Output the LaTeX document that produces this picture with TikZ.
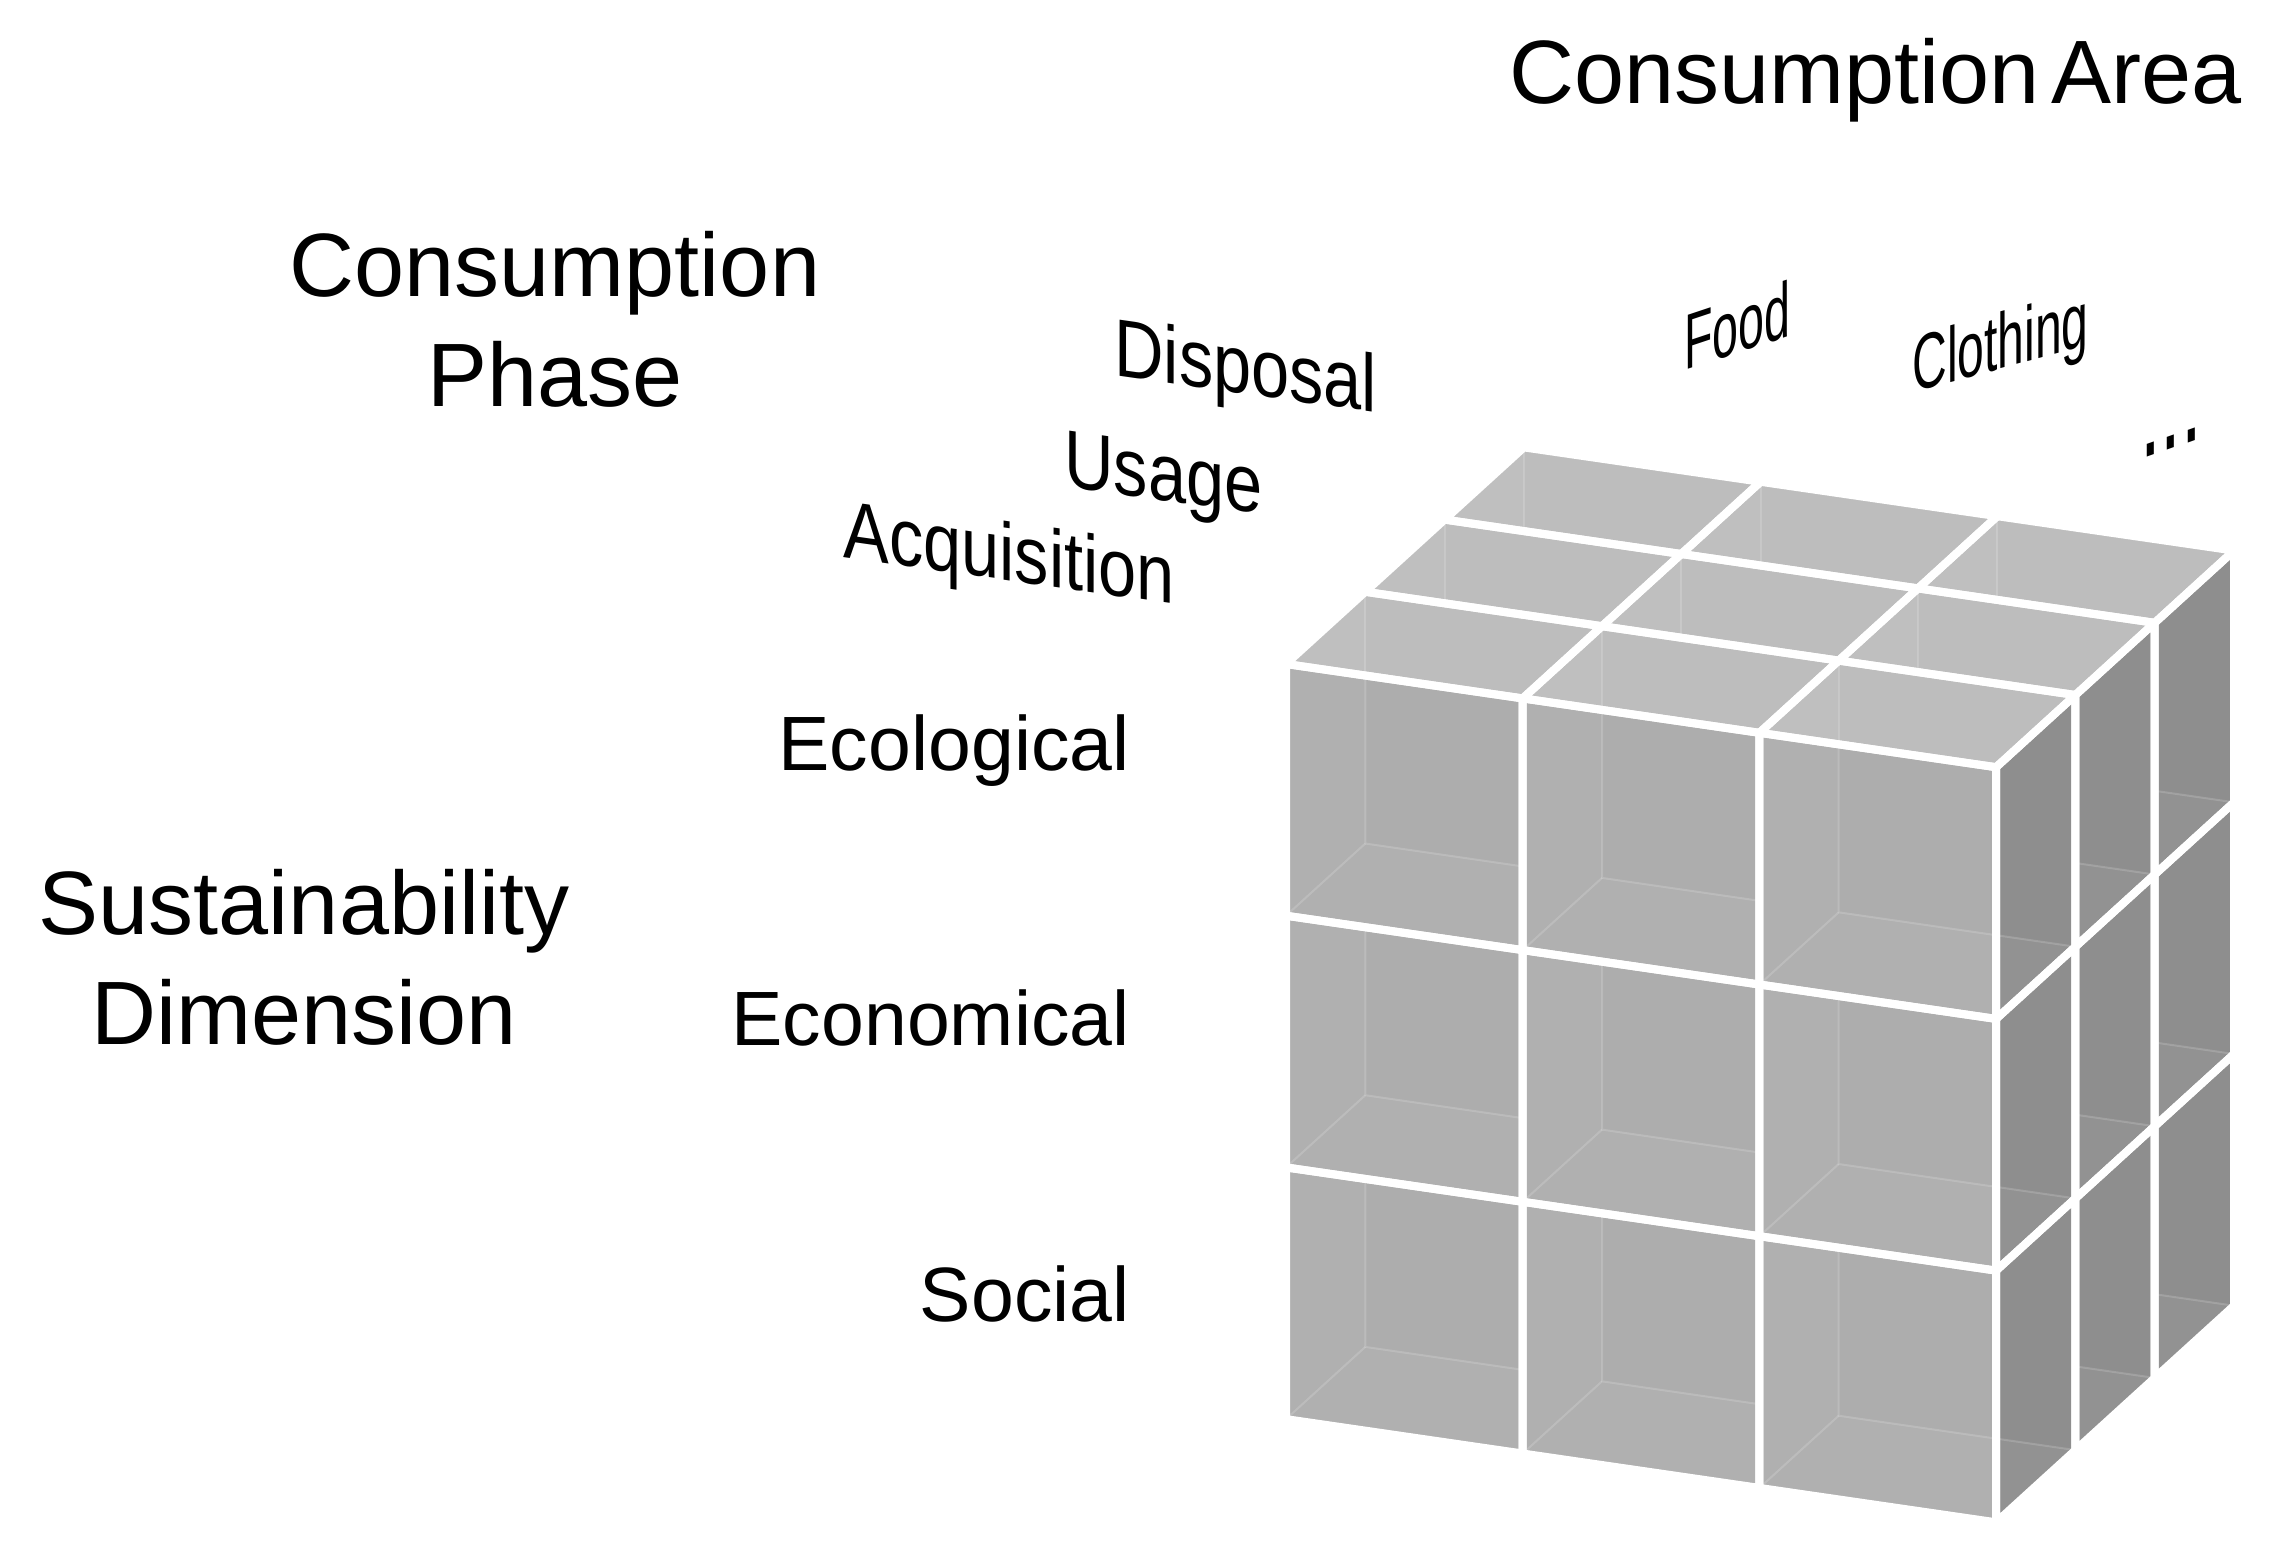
\documentclass[tikz,border=0pt]{standalone}
\usepackage{fontspec}
\setmainfont{Liberation Sans}
\definecolor{frontc}{HTML}{ADADAD}
\definecolor{topc}{HTML}{BDBDBD}
\definecolor{sidec}{HTML}{8E8E8E}
% grid point: column #1, row #2, depth #3 (pixel units, y down)
\newcommand\cp[3]{({1286+(#1)*236.7+(#3)*79.3},{664+(#1)*34.4+(#2)*251.7-(#3)*72.2})}
\begin{document}
\begin{tikzpicture}[x=0.5pt,y=-0.5pt,
  seam/.style={draw=white,line width=4pt,line join=round},
  faint/.style={draw=white,draw opacity=0.16,line width=1pt},
  glow/.style={fill=white,fill opacity=0.045},
  biglbl/.style={inner sep=0pt,font=\fontsize{45}{54}\selectfont},
  rowlbl/.style={inner sep=0pt,font=\fontsize{38.5}{46}\selectfont},
  slantlbl/.style={inner sep=0pt,font=\fontsize{37}{44}\selectfont}]
\useasboundingbox (0,0) rectangle (2272,1563);

% ---------- front face ----------
\foreach \i in {0,1,2}{\foreach \j in {0,1,2}{
  \fill[frontc] \cp{\i}{\j}{0} -- \cp{\i+1}{\j}{0} -- \cp{\i+1}{\j+1}{0} -- \cp{\i}{\j+1}{0} -- cycle;
  \begin{scope}
    \clip \cp{\i}{\j}{0} -- \cp{\i+1}{\j}{0} -- \cp{\i+1}{\j+1}{0} -- \cp{\i}{\j+1}{0} -- cycle;
    \fill[glow] \cp{\i}{\j}{0} -- \cp{\i}{\j}{1} -- \cp{\i}{\j+1}{1} -- \cp{\i}{\j+1}{0} -- cycle;
    \fill[glow] \cp{\i}{\j+1}{0} -- \cp{\i+1}{\j+1}{0} -- \cp{\i+1}{\j+1}{1} -- \cp{\i}{\j+1}{1} -- cycle;
    \draw[faint] \cp{\i}{\j}{1} -- \cp{\i}{\j+1}{1} -- \cp{\i+1}{\j+1}{1};
    \draw[faint] \cp{\i}{\j+1}{0} -- \cp{\i}{\j+1}{1};
  \end{scope}
}}
% ---------- top face ----------
\foreach \i in {0,1,2}{\foreach \k in {0,1,2}{
  \fill[topc] \cp{\i}{0}{\k} -- \cp{\i+1}{0}{\k} -- \cp{\i+1}{0}{\k+1} -- \cp{\i}{0}{\k+1} -- cycle;
  \begin{scope}
    \clip \cp{\i}{0}{\k} -- \cp{\i+1}{0}{\k} -- \cp{\i+1}{0}{\k+1} -- \cp{\i}{0}{\k+1} -- cycle;
    \fill[glow] \cp{\i}{0}{\k} -- \cp{\i}{0}{\k+1} -- \cp{\i}{1}{\k+1} -- \cp{\i}{1}{\k} -- cycle;
    \draw[faint] \cp{\i}{0}{\k+1} -- \cp{\i}{1}{\k+1};
  \end{scope}
}}
% ---------- right face ----------
\foreach \j in {0,1,2}{\foreach \k in {0,1,2}{
  \fill[sidec] \cp{3}{\j}{\k} -- \cp{3}{\j}{\k+1} -- \cp{3}{\j+1}{\k+1} -- \cp{3}{\j+1}{\k} -- cycle;
  \begin{scope}
    \clip \cp{3}{\j}{\k} -- \cp{3}{\j}{\k+1} -- \cp{3}{\j+1}{\k+1} -- \cp{3}{\j+1}{\k} -- cycle;
    \fill[glow] \cp{2}{\j+1}{\k} -- \cp{3}{\j+1}{\k} -- \cp{3}{\j+1}{\k+1} -- \cp{2}{\j+1}{\k+1} -- cycle;
    \draw[faint] \cp{2}{\j+1}{\k+1} -- \cp{3}{\j+1}{\k+1};
  \end{scope}
}}
% ---------- white seams ----------
\foreach \i in {0,1,2}{\foreach \j in {0,1,2}{
  \draw[seam] \cp{\i}{\j}{0} -- \cp{\i+1}{\j}{0} -- \cp{\i+1}{\j+1}{0} -- \cp{\i}{\j+1}{0} -- cycle;}}
\foreach \i in {0,1,2}{\foreach \k in {0,1,2}{
  \draw[seam] \cp{\i}{0}{\k} -- \cp{\i+1}{0}{\k} -- \cp{\i+1}{0}{\k+1} -- \cp{\i}{0}{\k+1} -- cycle;}}
\foreach \j in {0,1,2}{\foreach \k in {0,1,2}{
  \draw[seam] \cp{3}{\j}{\k} -- \cp{3}{\j}{\k+1} -- \cp{3}{\j+1}{\k+1} -- \cp{3}{\j+1}{\k} -- cycle;}}

% ---------- axis titles ----------
\node[biglbl,anchor=base west] (area) at (1509,103) {Consumption\hspace{0.13em}Area};
\node[biglbl,anchor=base] (phaseA) at (555,296) {Consumption};
\node[biglbl,anchor=base] (phaseB) at (555,406) {Phase};
\node[biglbl,anchor=base] (dimA) at (304,934) {Sustainability};
\node[biglbl,anchor=base] (dimB) at (304,1044) {Dimension};

% ---------- row labels ----------
\node[rowlbl,anchor=base east] (eco) at (1130,770) {Ecological};
\node[rowlbl,anchor=base east] (econ) at (1130,1045) {Economical};
\node[rowlbl,anchor=base east] (soc) at (1130,1321) {Social};

% ---------- phase labels ----------
\node[rowlbl,anchor=base west,cm={0.89,-0.127,0,1.06,(0,0)}] (disp) at (1114,375) {Disposal};
\node[rowlbl,anchor=base west,cm={0.89,-0.127,0,1.06,(0,0)}] (usage) at (1064,486) {Usage};
\node[rowlbl,anchor=base west,cm={0.89,-0.127,0,1.06,(0,0)}] (acq) at (843,557) {Acquisition};

% ---------- area labels ----------
\node[slantlbl,anchor=base west,cm={0.63,0.21,0,1.06,(0,0)}] (food) at (1684,371) {Food};
\node[slantlbl,anchor=base west,cm={0.65,0.175,0,1.06,(0,0)}] (cloth) at (1912,393) {Clothing};
\node[slantlbl,anchor=base west,cm={1.0,0.36,0,1.6,(0,0)}] (more) at (2140,460) {...};
\end{tikzpicture}
\end{document}
